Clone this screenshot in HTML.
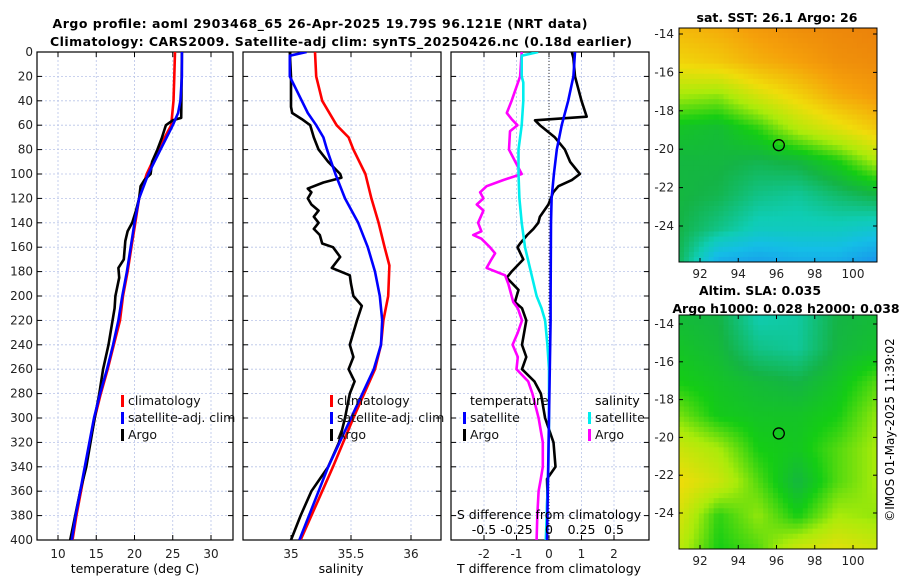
<!DOCTYPE html>
<html><head><meta charset="utf-8"><style>
html,body{margin:0;padding:0;background:#fff;}
svg{display:block;font-family:"DejaVu Sans","Liberation Sans",sans-serif;}
</style></head><body>
<svg id="fig" width="900" height="580" viewBox="0 0 900 580" xmlns="http://www.w3.org/2000/svg">
<text x="320" y="28" text-anchor="middle" font-weight="bold" font-size="12.5" textLength="535">Argo profile: aoml 2903468_65 26-Apr-2025 19.79S 96.121E (NRT data)</text>
<text x="341" y="46" text-anchor="middle" font-weight="bold" font-size="12.5" textLength="582">Climatology: CARS2009. Satellite-adj clim: synTS_20250426.nc (0.18d earlier)</text>
<text x="777" y="22" text-anchor="middle" font-weight="bold" font-size="12.5">sat. SST: 26.1 Argo: 26</text>
<text x="760" y="295" text-anchor="middle" font-weight="bold" font-size="12.5">Altim. SLA: 0.035</text>
<text x="786" y="313" text-anchor="middle" font-weight="bold" font-size="12.5">Argo h1000: 0.028 h2000: 0.038</text>
<text transform="translate(894,430) rotate(-90)" text-anchor="middle" font-size="12">©IMOS 01-May-2025 11:39:02</text>
<g id="g1"></g><g id="g2"></g><g id="g3"></g><g id="m1"></g><g id="m2"></g>
</svg>
<script>
// ---- data ----
const depthTicks=[0,20,40,60,80,100,120,140,160,180,200,220,240,260,280,300,320,340,360,380,400];
const tTicks=[10,15,20,25,30];
const sTicks=[35,35.5,36];
const sTickLabels=["35","35.5","36"];
const dTicks=[-2,-1,0,1,2];
const sdTicks=[-0.5,-0.25,0,0.25,0.5];
const sdTickLabels=["-0.5","-0.25","0","0.25","0.5"];
const tClimDepth=[0,20,40,60,80,100,120,140,160,180,200,220,240,260,280,300,320,340,360,380,400];
const tClim=[25.3,25.2,25.1,24.8,23.1,21.6,20.6,20.1,19.6,19.1,18.5,18.1,17.3,16.5,15.6,14.8,14.2,13.6,13.0,12.4,11.9];
const tSatDepth=[0,20,40,50,60,80,100,120,140,160,180,200,220,240,260,280,300,320,340,360,380,400];
const tSat=[26.2,26.2,26.0,25.7,25.0,23.4,21.8,20.6,20.0,19.5,19.0,18.4,17.9,17.2,16.4,15.5,14.7,14.1,13.5,12.9,12.3,11.8];
const tArgoDepth=[0,54,56,60,62,70,80,90,100,105,110,120,130,140,147,155,170,177,185,200,210,240,260,280,300,340,360,400];
const tArgo=[26.2,26.1,25.0,24.1,24.0,23.6,23.0,22.3,22.1,21.3,20.8,20.6,20.2,19.7,19.1,18.8,18.6,17.9,18.0,17.5,17.4,16.6,15.9,15.4,14.8,13.7,12.9,11.6];
const sClimDepth=[0,20,40,60,70,80,100,120,140,160,175,200,220,240,260,280,300,340,360,400];
const sClim=[35.2,35.21,35.26,35.38,35.48,35.52,35.62,35.67,35.73,35.78,35.82,35.81,35.77,35.75,35.70,35.61,35.52,35.35,35.26,35.08];
const sSatDepth=[0,3,10,20,40,50,60,70,80,100,110,120,140,160,180,200,220,240,260,300,340,400];
const sSat=[35.13,34.99,34.99,34.99,35.09,35.14,35.21,35.27,35.30,35.37,35.41,35.45,35.56,35.64,35.70,35.74,35.76,35.75,35.69,35.50,35.31,35.07];
const sArgoDepth=[0,20,45,50,55,60,70,80,90,100,103,107,112,115,120,125,130,135,140,145,150,157,160,168,177,183,190,200,208,220,240,250,260,270,280,300,320,340,350,360,380,400];
const sArgo=[34.99,35.0,35.0,35.01,35.09,35.16,35.19,35.23,35.31,35.41,35.42,35.27,35.14,35.17,35.14,35.17,35.23,35.19,35.23,35.19,35.24,35.26,35.35,35.41,35.34,35.49,35.50,35.52,35.59,35.55,35.49,35.52,35.48,35.53,35.49,35.45,35.40,35.31,35.24,35.17,35.08,35.0];
const dtSatDepth=[0,20,40,60,80,100,120,140,200,220,300,400];
const dtSat=[0.8,0.75,0.59,0.39,0.24,0.15,0.08,0.06,0.05,0.05,0.0,-0.06];
const dtArgoDepth=[0,5,20,40,53,56,60,70,80,90,100,105,110,115,125,135,140,145,150,157,160,170,180,185,195,205,210,220,240,250,260,270,280,300,320,340,350,360,380,400];
const dtArgo=[0.7,0.75,0.8,1.0,1.16,-0.43,-0.28,0.18,0.49,0.65,0.95,0.7,0.29,0.13,-0.02,-0.28,-0.33,-0.48,-0.67,-0.89,-0.97,-0.79,-1.15,-1.30,-0.94,-1.05,-0.83,-0.7,-0.83,-0.7,-0.83,-0.45,-0.25,-0.12,0.14,0.2,-0.06,-0.05,-0.06,-0.07];
const dsSatDepth=[0,3,20,25,40,60,80,100,120,140,160,180,200,210,220,240,260,300,340,400];
const dsSat=[-0.083,-0.21,-0.21,-0.198,-0.198,-0.21,-0.235,-0.235,-0.228,-0.21,-0.185,-0.14,-0.095,-0.058,-0.03,-0.012,0.0,0.0,-0.005,-0.025];
const dsArgoDepth=[0,20,40,50,55,60,65,80,95,100,105,110,115,120,125,130,140,147,150,153,160,165,170,177,183,190,200,205,210,220,230,240,250,260,270,280,300,320,340,350,360,380,400];
const dsArgo=[-0.21,-0.222,-0.288,-0.325,-0.288,-0.243,-0.3,-0.308,-0.235,-0.21,-0.353,-0.48,-0.53,-0.505,-0.555,-0.505,-0.545,-0.52,-0.583,-0.52,-0.455,-0.415,-0.443,-0.48,-0.338,-0.313,-0.288,-0.275,-0.24,-0.208,-0.24,-0.28,-0.24,-0.25,-0.16,-0.128,-0.08,-0.048,-0.048,-0.063,-0.08,-0.09,-0.095];
// SST map coarse values (rows lat -14..-25.5, cols lon 91..101), colour index 0..1
const sstGrid=[
[0.84,0.87,0.92,0.96,0.98,1.0],[0.77,0.8,0.86,0.9,0.95,0.97],[0.62,0.6,0.7,0.78,0.87,0.92],
[0.47,0.45,0.52,0.64,0.72,0.8],[0.43,0.43,0.41,0.43,0.5,0.62],[0.43,0.41,0.35,0.33,0.38,0.42],
[0.42,0.35,0.28,0.28,0.28,0.25],[0.4,0.15,0.12,0.15,0.15,0.08]];
const slaGrid=[
[0.44,0.42,0.3,0.32,0.42,0.44],[0.47,0.44,0.35,0.33,0.43,0.46],[0.5,0.47,0.44,0.42,0.47,0.55],
[0.58,0.49,0.47,0.47,0.5,0.6],[0.68,0.62,0.5,0.48,0.55,0.62],[0.75,0.68,0.55,0.43,0.55,0.62],
[0.7,0.52,0.6,0.5,0.62,0.6],[0.65,0.5,0.55,0.68,0.72,0.68]];
const latTicks=[-14,-16,-18,-20,-22,-24];
const lonTicks=[92,94,96,98,100];
const argoLat=-19.79, argoLon=96.121;

const NS="http://www.w3.org/2000/svg";
function mk(parent,tag,attrs,text){const e=document.createElementNS(NS,tag);for(const k in attrs)e.setAttribute(k,attrs[k]);if(text!==undefined)e.textContent=text;parent.appendChild(e);return e;}
const Y0=52,Y1=540;
function yD(d){return Y0+(d/400)*(Y1-Y0);}
function lin(d0,d1,r0,r1){return v=>r0+(v-d0)/(d1-d0)*(r1-r0);}

function panel(g,x0,x1,xs,ticks,labels,gridTicks,yLabels){
  for(const t of gridTicks){const l=mk(g,'line',{x1:xs(t),x2:xs(t),y1:Y0,y2:Y1,stroke:'#b8c4e8','stroke-width':0.8,'stroke-dasharray':'2,2'});
    }
  for(const d of depthTicks){if(d===0||d===400)continue;const l=mk(g,'line',{x1:x0,x2:x1,y1:yD(d),y2:yD(d),stroke:'#b8c4e8','stroke-width':0.8,'stroke-dasharray':'2,2'});
    }
  for(const d of depthTicks){mk(g,'line',{x1:x0,x2:x0+5,y1:yD(d),y2:yD(d),stroke:'#000'});mk(g,'line',{x1:x1-5,x2:x1,y1:yD(d),y2:yD(d),stroke:'#000'});
    if(yLabels){const t=mk(g,'text',{x:x0-4,y:yD(d)+4,'text-anchor':'end','font-size':12,fill:'#222'},String(d));
      }}
  ticks.forEach((v,i)=>{mk(g,'line',{x1:xs(v),x2:xs(v),y1:Y1,y2:Y1-5,stroke:'#000'});mk(g,'line',{x1:xs(v),x2:xs(v),y1:Y0,y2:Y0+5,stroke:'#000'});
    const t=mk(g,'text',{x:xs(v),y:558,'text-anchor':'middle','font-size':12,fill:'#222'},labels[i]);
    });
  const r=mk(g,'rect',{x:x0,y:Y0,width:x1-x0,height:Y1-Y0,fill:'none',stroke:'#000','stroke-width':1.2});
  
}
function line(g,xs,vals,depths,color,name){
  const p=vals.map((v,i)=>(i?'L':'M')+xs(v).toFixed(1)+','+yD(depths[i]).toFixed(1)).join('');
  const e=mk(g,'path',{d:p,fill:'none',stroke:color,'stroke-width':2.6,'stroke-linejoin':'round'});
  
  
}
function legend(g,x,y,items){items.forEach((it,i)=>{mk(g,'rect',{x:x,y:y+i*17-10,width:3,height:12,fill:it[0]});
  const t=mk(g,'text',{x:x+7,y:y+i*17,'font-size':12.5,fill:'#111'},it[1]);
  });}
function clip(g,id,x0,x1){const c=mk(g,'clipPath',{id:id});mk(c,'rect',{x:x0,y:Y0,width:x1-x0,height:Y1-Y0});const h=mk(g,'g',{'clip-path':'url(#'+id+')'});return h;}

// panel 1
const g1=document.getElementById('g1');
const xT=lin(10,30,58,211);
panel(g1,37,233,xT,tTicks,tTicks.map(String),tTicks,true);
const c1=clip(g1,'cp1',37,233);
line(c1,xT,tClim,tClimDepth,'#f00','temp-climatology-line');
line(c1,xT,tArgo,tArgoDepth,'#000','temp-argo-line');
line(c1,xT,tSat,tSatDepth,'#00f','temp-satellite-line');
legend(g1,121,405,[['#f00','climatology'],['#00f','satellite-adj. clim'],['#000','Argo']]);
mk(g1,'text',{x:135,y:573,'text-anchor':'middle','font-size':12.5},'temperature (deg C)');

// panel 2
const g2=document.getElementById('g2');
const xS=lin(35,36,291,411);
panel(g2,243,441,xS,sTicks,sTickLabels,sTicks,false);
const c2=clip(g2,'cp2',243,441);
line(c2,xS,sClim,sClimDepth,'#f00','sal-climatology-line');
line(c2,xS,sArgo,sArgoDepth,'#000','sal-argo-line');
line(c2,xS,sSat,sSatDepth,'#00f','sal-satellite-line');
legend(g2,330,405,[['#f00','climatology'],['#00f','satellite-adj. clim'],['#000','Argo']]);
mk(g2,'text',{x:341,y:573,'text-anchor':'middle','font-size':12.5},'salinity');

// panel 3
const g3=document.getElementById('g3');
const xDT=lin(-2,2,484,614);
const xDS=lin(-0.5,0.5,484,614);
panel(g3,451,649,xDT,dTicks,dTicks.map(String),dTicks,false);
mk(g3,'line',{x1:xDT(0),x2:xDT(0),y1:Y0,y2:Y1,stroke:'#333','stroke-dasharray':'1,2'});
const c3=clip(g3,'cp3',451,649);
line(c3,xDT,dtArgo,dtArgoDepth,'#000','tdiff-argo-line');
line(c3,xDS,dsArgo,dsArgoDepth,'#f0f','sdiff-argo-line');
line(c3,xDS,dsSat,dsSatDepth,'#0ee','sdiff-satellite-line');
line(c3,xDT,dtSat,dtSatDepth,'#00f','tdiff-satellite-line');
mk(g3,'text',{x:470,y:405,'font-size':12.5},'temperature');
mk(g3,'text',{x:595,y:405,'font-size':12.5},'salinity');
legend(g3,463,422,[['#00f','satellite'],['#000','Argo']]);
legend(g3,588,422,[['#0ee','satellite'],['#f0f','Argo']]);
mk(g3,'text',{x:549,y:519,'text-anchor':'middle','font-size':12.5},'S difference from climatology');
sdTicks.forEach((v,i)=>{const t=mk(g3,'text',{x:xDS(v),y:534,'text-anchor':'middle','font-size':12.5},sdTickLabels[i]);});
mk(g3,'text',{x:549,y:573,'text-anchor':'middle','font-size':12.5},'T difference from climatology');

// maps
const stops=[[0,[30,120,240]],[0.2,[20,190,230]],[0.3,[15,205,180]],[0.42,[20,180,70]],[0.5,[20,205,20]],[0.62,[170,235,10]],[0.75,[240,220,10]],[0.9,[245,160,10]],[1,[235,130,10]]];
function cmap(v){v=Math.max(0,Math.min(1,v));for(let i=1;i<stops.length;i++){if(v<=stops[i][0]){const a=stops[i-1],b=stops[i],f=(v-a[0])/(b[0]-a[0]);return 'rgb('+a[1].map((c,k)=>Math.round(c+(b[1][k]-c)*f)).join(',')+')';}}return 'rgb(235,130,10)';}
function bil(G,u,v){const R=G.length-1,C=G[0].length-1;const y=v*R,x=u*C;const i=Math.min(R-1,Math.floor(y)),j=Math.min(C-1,Math.floor(x));const fy=y-i,fx=x-j;
  return G[i][j]*(1-fx)*(1-fy)+G[i][j+1]*fx*(1-fy)+G[i+1][j]*(1-fx)*fy+G[i+1][j+1]*fx*fy;}
function map(id,G,x0,y0,w,h,latY,name){
  const g=document.getElementById(id);const n=40,m=46;const cw=w/n,ch=h/m;
  for(let r=0;r<m;r++)for(let c=0;c<n;c++){mk(g,'rect',{x:(x0+c*cw).toFixed(2),y:(y0+r*ch).toFixed(2),width:(cw+0.4).toFixed(2),height:(ch+0.4).toFixed(2),fill:cmap(bil(G,(c+0.5)/n,(r+0.5)/m))});}
  const fr=mk(g,'rect',{x:x0,y:y0,width:w,height:h,fill:'none',stroke:'#000','stroke-width':1});
  
  const xl=lin(92,100,700,853);
  lonTicks.forEach(v=>{mk(g,'line',{x1:xl(v),x2:xl(v),y1:y0+h,y2:y0+h-4,stroke:'#000'});mk(g,'line',{x1:xl(v),x2:xl(v),y1:y0,y2:y0+4,stroke:'#000'});
    const t=mk(g,'text',{x:xl(v),y:y0+h+16,'text-anchor':'middle','font-size':12,fill:'#222'},String(v));});
  latTicks.forEach(v=>{const y=latY(v);mk(g,'line',{x1:x0,x2:x0+4,y1:y,y2:y,stroke:'#000'});mk(g,'line',{x1:x0+w-4,x2:x0+w,y1:y,y2:y,stroke:'#000'});
    const t=mk(g,'text',{x:x0-5,y:y+4,'text-anchor':'end','font-size':12,fill:'#222'},String(v));});
  const ci=mk(g,'circle',{cx:xl(argoLon),cy:latY(argoLat),r:5.5,fill:'none',stroke:'#000','stroke-width':1.3});
  
}
map('m1',sstGrid,679,28,198,234,lin(-14,-24,34,226),'sst-map');
map('m2',slaGrid,679,315,198,234,lin(-14,-24,324,513),'sla-map');
</script>
</body></html>
